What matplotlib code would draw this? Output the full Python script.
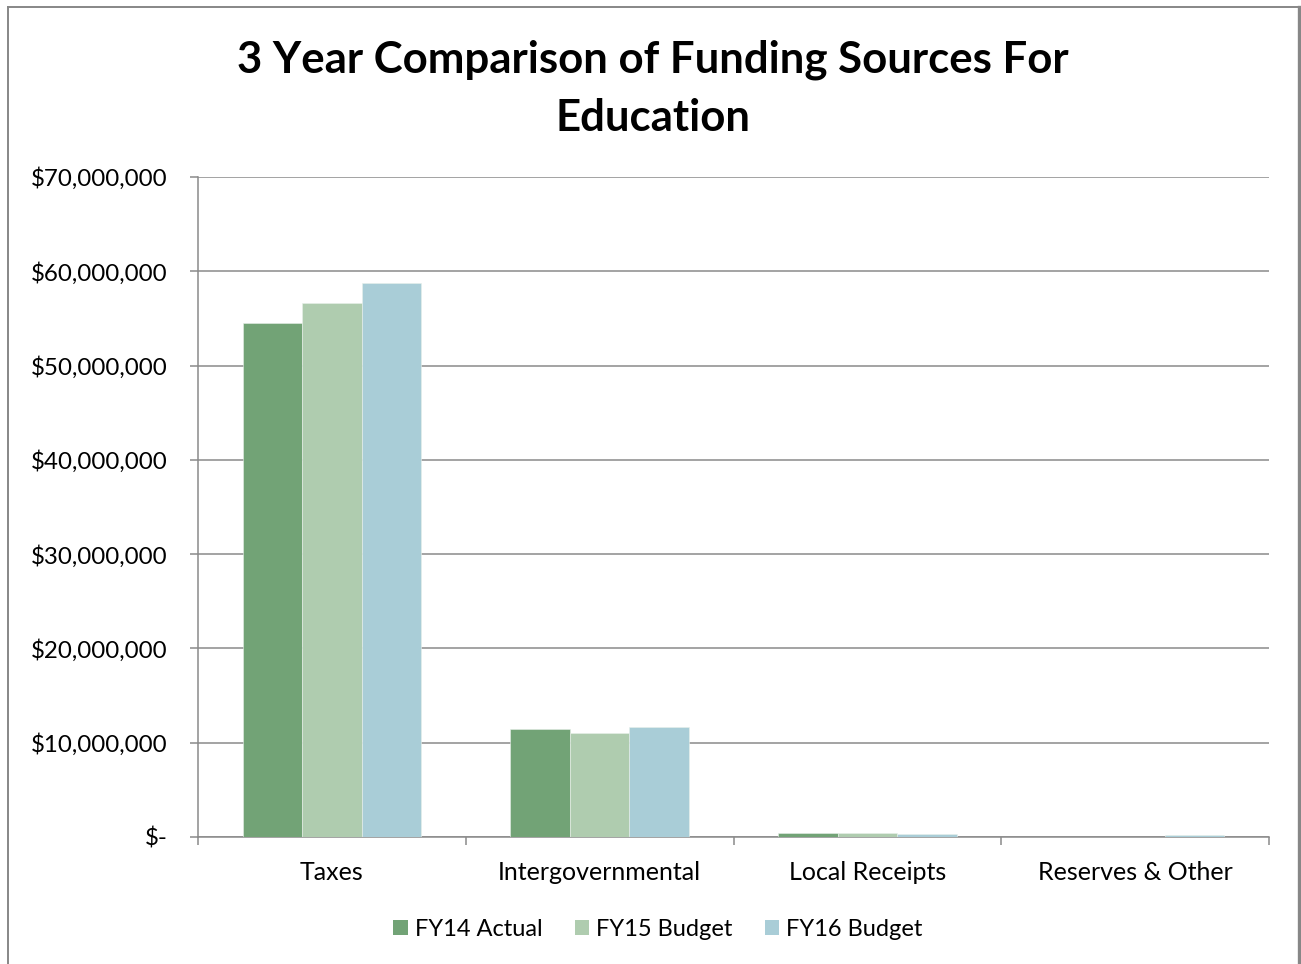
import matplotlib
matplotlib.use("Agg")
import matplotlib.pyplot as plt
from matplotlib.lines import Line2D
from matplotlib.patches import Patch
import numpy as np

categories = ["Taxes", "Intergovernmental", "Local Receipts", "Reserves & Other"]
series_names = ["FY14 Actual", "FY15 Budget", "FY16 Budget"]
fy14 = [54_500_000, 11_450_000, 420_000, 0]
fy15 = [56_600_000, 11_050_000, 400_000, 0]
fy16 = [58_750_000, 11_700_000, 300_000, 200_000]
yticks = [0, 10_000_000, 20_000_000, 30_000_000, 40_000_000, 50_000_000, 60_000_000, 70_000_000]
ytick_labels = ["$-", "$10,000,000", "$20,000,000", "$30,000,000", "$40,000,000",
                "$50,000,000", "$60,000,000", "$70,000,000"]
colors = ["#72A376", "#AFCCAF", "#A9CDD7"]
title = "3 Year Comparison of Funding Sources For\nEducation"

FONT = "Lato"
plt.rcParams["font.family"] = [FONT, "DejaVu Sans"]

W, H = 1301, 964
fig = plt.figure(figsize=(W / 100, H / 100), dpi=100)
fig.patch.set_facecolor("white")

ax = fig.add_axes([198 / W, 1 - 837 / H, (1269 - 198) / W, (837 - 177) / H])

x = np.arange(len(categories))
bw = 0.222
for i, (vals, c, name) in enumerate(zip([fy14, fy15, fy16], colors, series_names)):
    ax.bar(x + (i - 1) * bw, vals, width=bw, color=c, edgecolor="#E8F0EA",
           linewidth=0.4, label=name, zorder=3)

grid_c = "#8A8A8A"
ax.set_ylim(0, 70_000_000)
ax.set_xlim(-0.5, len(categories) - 0.5)
ax.set_yticks(yticks)
ax.set_yticklabels(ytick_labels)
ax.yaxis.grid(True, color=grid_c, linewidth=1.1, zorder=0)
ax.set_axisbelow(True)

# category boundaries as major ticks, labels on minor ticks
ax.set_xticks(np.arange(-0.5, len(categories), 1.0))
ax.set_xticklabels([])
ax.set_xticks(x, minor=True)
ax.set_xticklabels(categories, minor=True)
ax.tick_params(axis="x", which="major", direction="out", length=6, width=1.1, color=grid_c)
ax.tick_params(axis="x", which="minor", length=0, pad=17.5, labelsize=18)
ax.tick_params(axis="y", direction="out", length=6, width=1.1, color=grid_c, pad=16,
               labelsize=17.4)

for s in ["top", "right"]:
    ax.spines[s].set_visible(False)
for s in ["left", "bottom"]:
    ax.spines[s].set_color(grid_c)
    ax.spines[s].set_linewidth(1.1)

fig.text(653 / W, 1 - 88.5 / H, title, ha="center", va="center", fontsize=31.5,
         fontweight="bold", linespacing=1.55)

handles = [Patch(facecolor=c, edgecolor="none") for c in colors]
fig.legend(handles, series_names, loc="center", bbox_to_anchor=(658 / W, 1 - 929 / H),
           ncol=3, frameon=False, fontsize=17, handlelength=0.62, handleheight=0.62,
           handletextpad=0.3, columnspacing=1.35)

# outer chart border
border_c = "#878787"
fig.add_artist(Line2D([8 / W, 8 / W], [0, 1 - 7 / H], transform=fig.transFigure,
                      color=border_c, linewidth=1.4))
fig.add_artist(Line2D([8 / W, 1299 / W], [1 - 7 / H, 1 - 7 / H], transform=fig.transFigure,
                      color=border_c, linewidth=1.4))
fig.add_artist(Line2D([1299 / W, 1299 / W], [0, 1 - 7 / H], transform=fig.transFigure,
                      color=border_c, linewidth=2.4))

fig.savefig("out.png", dpi=100)
